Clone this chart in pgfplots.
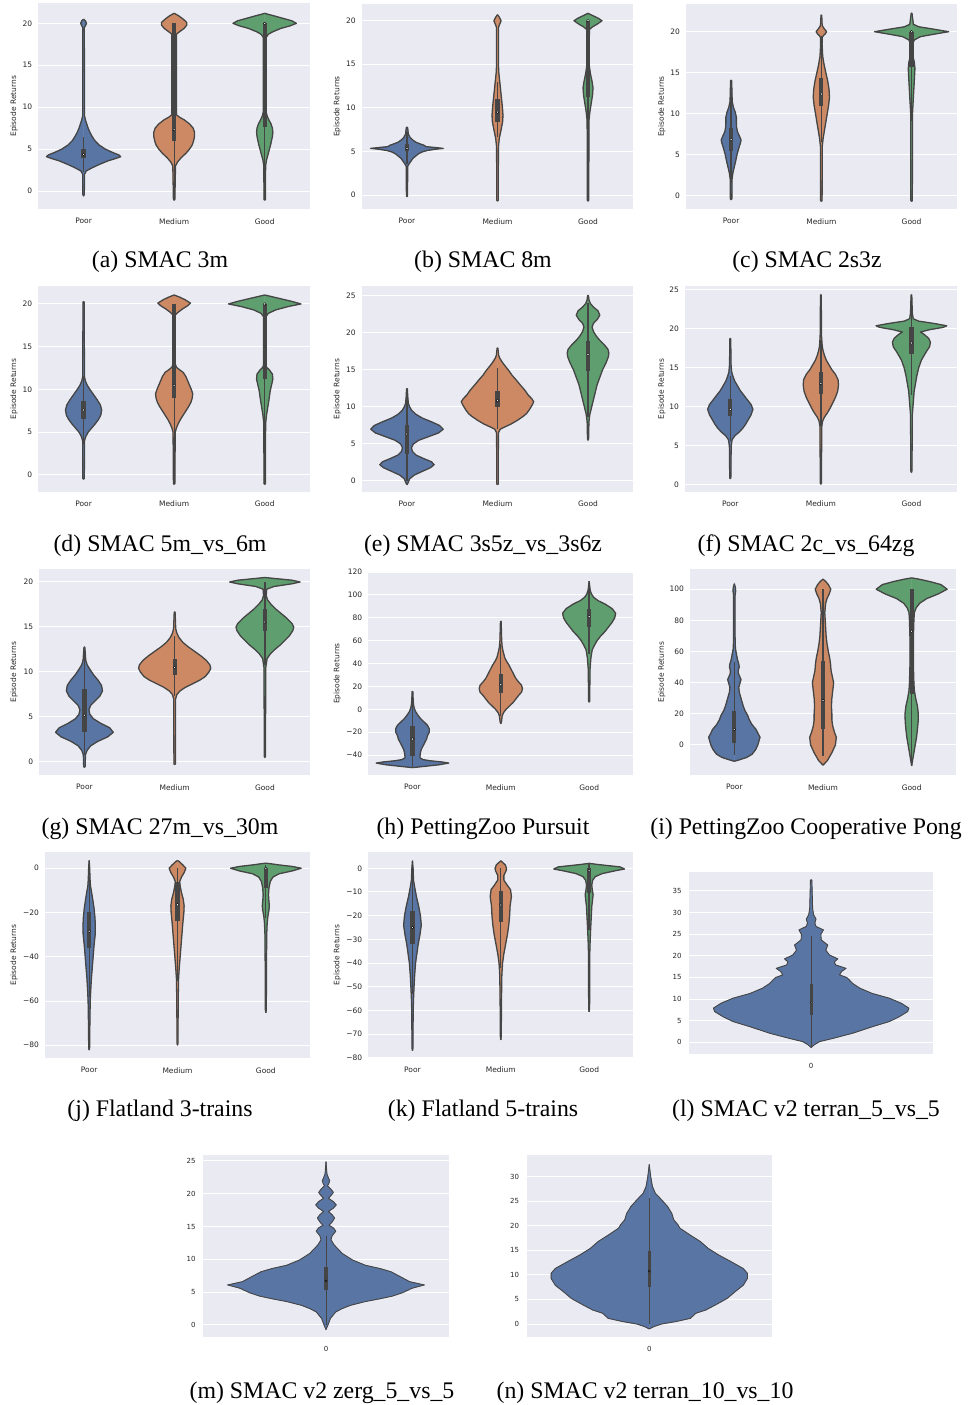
\documentclass[border=0pt]{standalone}
\usepackage{pgfplots}
\pgfplotsset{compat=1.18}
\usepackage{pgfplotstable}
\usepackage{fontspec}
\setmainfont{Liberation Serif}
\newfontfamily\sbfont{DejaVu Sans}
\newcommand{\tickfont}{\sbfont\fontsize{7.5}{9}\selectfont}
\newcommand{\smallfont}{\sbfont\fontsize{7}{8.4}\selectfont}
\newcommand{\capfont}{\fontsize{23.8}{28}\selectfont}

\definecolor{sbbg}{HTML}{EAEAF2}
\definecolor{vblue}{HTML}{5975A4}
\definecolor{vorange}{HTML}{CC8963}
\definecolor{vgreen}{HTML}{5F9E6E}
\definecolor{vgray}{HTML}{454545}
\definecolor{tgray}{HTML}{262626}

% violin outlines: y = return, w = half width (category units)
\pgfplotstableread[row sep=\\]{y w\\ -0.6 0\\ -0.4 0.008\\ 2.0 0.01\\ 2.4 0.03\\ 2.8 0.10\\ 3.2 0.18\\ 3.6 0.27\\ 3.9 0.36\\ 4.1 0.41\\ 4.3 0.39\\ 4.6 0.32\\ 5.0 0.24\\ 5.5 0.17\\ 6.0 0.125\\ 6.5 0.095\\ 7.0 0.07\\ 7.5 0.05\\ 8.0 0.035\\ 8.5 0.02\\ 9.0 0.01\\ 19.5 0.008\\ 19.7 0.02\\ 20.0 0.032\\ 20.3 0.02\\ 20.5 0\\}\vaP
\pgfplotstableread[row sep=\\]{y w\\ -1.1 0\\ -1.0 0.008\\ 3.0 0.015\\ 3.5 0.04\\ 4.0 0.08\\ 4.5 0.13\\ 5.0 0.17\\ 5.5 0.2\\ 6.0 0.215\\ 6.5 0.225\\ 7.0 0.225\\ 7.5 0.21\\ 8.0 0.17\\ 8.5 0.11\\ 8.8 0.06\\ 9.1 0.025\\ 18.7 0.025\\ 19.0 0.06\\ 19.4 0.11\\ 19.8 0.14\\ 20.1 0.14\\ 20.5 0.1\\ 20.9 0.05\\ 21.2 0\\}\vaM
\pgfplotstableread[row sep=\\]{y w\\ -1.1 0\\ -1.0 0.008\\ 3.0 0.01\\ 3.7 0.02\\ 4.5 0.04\\ 5.5 0.065\\ 6.5 0.085\\ 7.0 0.09\\ 7.5 0.085\\ 8.0 0.07\\ 8.5 0.045\\ 9.0 0.025\\ 9.5 0.015\\ 18.3 0.015\\ 18.7 0.04\\ 19.0 0.09\\ 19.4 0.18\\ 19.7 0.28\\ 20.0 0.35\\ 20.3 0.3\\ 20.6 0.2\\ 20.9 0.1\\ 21.1 0.03\\ 21.2 0\\}\vaG

\pgfplotstableread[row sep=\\]{y w\\ -0.2 0\\ -0.1 0.006\\ 3.3 0.008\\ 3.6 0.025\\ 3.9 0.045\\ 4.2 0.065\\ 4.5 0.1\\ 4.75 0.13\\ 4.95 0.17\\ 5.1 0.22\\ 5.25 0.31\\ 5.35 0.4\\ 5.45 0.31\\ 5.55 0.21\\ 5.7 0.19\\ 5.85 0.15\\ 6.05 0.1\\ 6.3 0.065\\ 6.6 0.035\\ 7.0 0.015\\ 7.7 0.008\\ 7.8 0\\}\vbP
\pgfplotstableread[row sep=\\]{y w\\ -0.7 0\\ -0.6 0.008\\ 5.5 0.01\\ 6.5 0.02\\ 7.5 0.04\\ 8.5 0.058\\ 9.2 0.06\\ 10.0 0.055\\ 11.0 0.045\\ 12.0 0.035\\ 13.0 0.025\\ 14.0 0.015\\ 15.0 0.01\\ 19.2 0.01\\ 19.5 0.02\\ 20.0 0.04\\ 20.4 0.02\\ 20.7 0\\}\vbM
\pgfplotstableread[row sep=\\]{y w\\ -0.7 0\\ -0.6 0.008\\ 8.5 0.01\\ 9.5 0.02\\ 10.5 0.035\\ 11.5 0.05\\ 12.3 0.055\\ 13.0 0.045\\ 14.0 0.025\\ 15.0 0.012\\ 19.0 0.015\\ 19.3 0.05\\ 19.6 0.1\\ 20.0 0.155\\ 20.3 0.11\\ 20.6 0.05\\ 20.85 0\\}\vbG

\pgfplotstableread[row sep=\\]{y w\\ -0.5 0\\ -0.4 0.008\\ 2.0 0.01\\ 2.8 0.02\\ 3.5 0.035\\ 4.2 0.05\\ 5.0 0.065\\ 5.8 0.085\\ 6.5 0.105\\ 6.8 0.11\\ 7.2 0.095\\ 7.8 0.07\\ 8.4 0.06\\ 9.0 0.058\\ 9.6 0.058\\ 10.2 0.045\\ 10.8 0.025\\ 11.5 0.012\\ 14.0 0.006\\ 14.1 0\\}\vcP
\pgfplotstableread[row sep=\\]{y w\\ -0.7 0\\ -0.6 0.008\\ 6.0 0.01\\ 7.0 0.02\\ 8.0 0.035\\ 9.0 0.05\\ 10.0 0.065\\ 11.0 0.08\\ 12.0 0.09\\ 13.0 0.085\\ 14.0 0.07\\ 15.0 0.05\\ 16.0 0.03\\ 17.0 0.015\\ 18.5 0.008\\ 19.3 0.01\\ 19.5 0.02\\ 19.7 0.04\\ 20.0 0.058\\ 20.4 0.03\\ 20.7 0.012\\ 21.0 0.008\\ 22.0 0.004\\ 22.05 0\\}\vcM
\pgfplotstableread[row sep=\\]{y w\\ -0.7 0\\ -0.6 0.008\\ 10.0 0.01\\ 12.0 0.02\\ 14.0 0.03\\ 15.5 0.037\\ 16.3 0.03\\ 17.0 0.015\\ 18.5 0.012\\ 19.0 0.03\\ 19.4 0.1\\ 19.7 0.25\\ 20.0 0.41\\ 20.3 0.25\\ 20.6 0.08\\ 20.9 0.02\\ 22.2 0.005\\ 22.3 0\\}\vcG

\pgfplotstableread[row sep=\\]{y w\\ -0.5 0\\ -0.4 0.008\\ 4.0 0.01\\ 4.5 0.025\\ 5.0 0.05\\ 5.5 0.09\\ 6.0 0.13\\ 6.5 0.165\\ 7.0 0.19\\ 7.6 0.2\\ 8.2 0.185\\ 8.8 0.15\\ 9.4 0.11\\ 10.0 0.07\\ 10.5 0.04\\ 11.0 0.02\\ 11.5 0.01\\ 20.2 0.006\\ 20.3 0\\}\vdP
\pgfplotstableread[row sep=\\]{y w\\ -1.1 0\\ -1.0 0.008\\ 5.0 0.012\\ 5.5 0.025\\ 6.0 0.045\\ 6.5 0.07\\ 7.0 0.1\\ 7.5 0.13\\ 8.0 0.16\\ 8.5 0.185\\ 9.0 0.2\\ 9.5 0.205\\ 10.0 0.19\\ 10.5 0.17\\ 11.0 0.15\\ 11.5 0.13\\ 12.0 0.1\\ 12.3 0.06\\ 12.6 0.025\\ 13.0 0.012\\ 18.7 0.012\\ 19.0 0.04\\ 19.4 0.09\\ 19.8 0.15\\ 20.1 0.18\\ 20.5 0.12\\ 20.8 0.06\\ 21.05 0\\}\vdM
\pgfplotstableread[row sep=\\]{y w\\ -1.1 0\\ -1.0 0.008\\ 6.0 0.01\\ 7.0 0.02\\ 8.0 0.035\\ 9.0 0.05\\ 9.8 0.06\\ 10.5 0.075\\ 11.2 0.09\\ 11.8 0.085\\ 12.3 0.05\\ 12.6 0.02\\ 13.0 0.012\\ 18.5 0.012\\ 18.9 0.04\\ 19.3 0.12\\ 19.7 0.26\\ 20.0 0.4\\ 20.3 0.3\\ 20.6 0.18\\ 20.9 0.06\\ 21.05 0\\}\vdG

\pgfplotstableread[row sep=\\]{y w\\ -0.5 0\\ -0.3 0.01\\ 0.3 0.03\\ 0.8 0.08\\ 1.3 0.17\\ 1.8 0.26\\ 2.2 0.3\\ 2.6 0.27\\ 3.0 0.19\\ 3.5 0.1\\ 4.0 0.06\\ 4.5 0.05\\ 5.0 0.07\\ 5.5 0.13\\ 6.0 0.24\\ 6.5 0.35\\ 7.0 0.4\\ 7.5 0.36\\ 8.0 0.27\\ 8.5 0.17\\ 9.0 0.1\\ 9.5 0.055\\ 10.0 0.03\\ 10.5 0.015\\ 11.5 0.008\\ 12.4 0.005\\ 12.5 0\\}\veP
\pgfplotstableread[row sep=\\]{y w\\ -0.5 0\\ -0.4 0.008\\ 6.5 0.01\\ 7.0 0.03\\ 7.3 0.08\\ 7.7 0.15\\ 8.2 0.22\\ 8.7 0.28\\ 9.1 0.32\\ 9.6 0.35\\ 10.2 0.38\\ 10.7 0.4\\ 11.1 0.38\\ 11.6 0.34\\ 12.3 0.3\\ 13.0 0.25\\ 13.6 0.21\\ 14.3 0.16\\ 15.0 0.12\\ 15.6 0.08\\ 16.1 0.05\\ 16.6 0.025\\ 17.0 0.012\\ 17.9 0.005\\ 18.0 0\\}\veM
\pgfplotstableread[row sep=\\]{y w\\ 5.5 0\\ 5.7 0.006\\ 8.0 0.01\\ 9.0 0.02\\ 10.0 0.04\\ 11.0 0.06\\ 12.0 0.08\\ 13.0 0.1\\ 14.0 0.13\\ 15.0 0.16\\ 16.0 0.2\\ 16.8 0.225\\ 17.3 0.23\\ 17.8 0.22\\ 18.4 0.18\\ 19.0 0.13\\ 19.6 0.09\\ 20.2 0.06\\ 20.8 0.045\\ 21.3 0.06\\ 21.8 0.1\\ 22.4 0.13\\ 23.0 0.11\\ 23.5 0.06\\ 24.0 0.025\\ 24.5 0.01\\ 25.0 0.005\\ 25.1 0\\}\veG

\pgfplotstableread[row sep=\\]{y w\\ 0.8 0\\ 0.9 0.006\\ 5.0 0.01\\ 5.8 0.02\\ 6.3 0.05\\ 6.8 0.1\\ 7.3 0.14\\ 7.8 0.17\\ 8.4 0.2\\ 9.0 0.23\\ 9.7 0.25\\ 10.3 0.23\\ 10.9 0.19\\ 11.5 0.15\\ 12.1 0.11\\ 12.7 0.08\\ 13.3 0.05\\ 13.9 0.03\\ 14.5 0.015\\ 15.5 0.008\\ 18.7 0.005\\ 18.8 0\\}\vfP
\pgfplotstableread[row sep=\\]{y w\\ 0.1 0\\ 0.2 0.006\\ 7.5 0.01\\ 8.2 0.02\\ 8.7 0.04\\ 9.2 0.07\\ 9.8 0.1\\ 10.5 0.13\\ 11.2 0.16\\ 12.0 0.185\\ 12.8 0.195\\ 13.5 0.19\\ 14.2 0.16\\ 14.8 0.12\\ 15.4 0.09\\ 16.0 0.06\\ 16.6 0.04\\ 17.2 0.025\\ 17.8 0.015\\ 19.0 0.008\\ 24.3 0.004\\ 24.4 0\\}\vfM
\pgfplotstableread[row sep=\\]{y w\\ 1.6 0\\ 1.8 0.006\\ 9.0 0.01\\ 10.5 0.02\\ 12.0 0.03\\ 13.0 0.045\\ 14.0 0.06\\ 15.0 0.08\\ 16.0 0.11\\ 17.0 0.16\\ 17.7 0.2\\ 18.3 0.21\\ 18.8 0.19\\ 19.3 0.14\\ 19.6 0.1\\ 19.9 0.2\\ 20.2 0.35\\ 20.4 0.39\\ 20.7 0.25\\ 21.0 0.08\\ 21.3 0.02\\ 22.0 0.01\\ 24.3 0.004\\ 24.4 0\\}\vfG

\pgfplotstableread[row sep=\\]{y w\\ -0.6 0\\ -0.5 0.008\\ 0.8 0.012\\ 1.3 0.03\\ 1.8 0.07\\ 2.3 0.15\\ 2.8 0.26\\ 3.3 0.32\\ 3.8 0.28\\ 4.3 0.18\\ 4.8 0.1\\ 5.3 0.06\\ 5.8 0.05\\ 6.3 0.07\\ 6.8 0.12\\ 7.3 0.17\\ 7.9 0.2\\ 8.5 0.19\\ 9.1 0.15\\ 9.7 0.1\\ 10.3 0.06\\ 10.8 0.03\\ 11.3 0.015\\ 12.7 0.005\\ 12.8 0\\}\vgP
\pgfplotstableread[row sep=\\]{y w\\ -0.3 0\\ -0.2 0.008\\ 7.0 0.01\\ 7.5 0.025\\ 7.9 0.06\\ 8.3 0.12\\ 8.7 0.2\\ 9.1 0.28\\ 9.5 0.34\\ 10.0 0.38\\ 10.4 0.4\\ 10.8 0.39\\ 11.3 0.35\\ 11.8 0.29\\ 12.3 0.22\\ 12.8 0.15\\ 13.3 0.09\\ 13.8 0.05\\ 14.3 0.025\\ 14.8 0.012\\ 16.6 0.005\\ 16.7 0\\}\vgM
\pgfplotstableread[row sep=\\]{y w\\ 0.5 0\\ 0.6 0.006\\ 10.5 0.01\\ 11.5 0.025\\ 12.0 0.06\\ 12.5 0.11\\ 13.0 0.17\\ 13.5 0.22\\ 14.0 0.27\\ 14.6 0.31\\ 15.0 0.32\\ 15.4 0.3\\ 16.0 0.24\\ 16.5 0.18\\ 17.0 0.12\\ 17.5 0.07\\ 18.0 0.03\\ 18.5 0.015\\ 19.2 0.02\\ 19.5 0.1\\ 19.8 0.3\\ 20.0 0.39\\ 20.2 0.3\\ 20.4 0.1\\ 20.5 0\\}\vgG

\pgfplotstableread[row sep=\\]{y w\\ -51 0\\ -50 0.12\\ -48.5 0.3\\ -47 0.41\\ -46 0.33\\ -45 0.2\\ -44 0.12\\ -42.5 0.085\\ -41 0.085\\ -38 0.09\\ -35 0.1\\ -32 0.12\\ -29 0.14\\ -26 0.16\\ -23 0.17\\ -20 0.19\\ -17 0.19\\ -14 0.17\\ -11 0.13\\ -8 0.09\\ -5 0.06\\ -2 0.035\\ 1 0.02\\ 4 0.012\\ 8 0.008\\ 15.5 0.004\\ 15.7 0\\}\vhP
\pgfplotstableread[row sep=\\]{y w\\ -12.5 0\\ -11 0.008\\ -6 0.015\\ -3 0.03\\ 0 0.06\\ 3 0.1\\ 6 0.14\\ 9 0.17\\ 12 0.2\\ 15 0.235\\ 18 0.245\\ 21 0.235\\ 24 0.2\\ 27 0.17\\ 30 0.15\\ 33 0.13\\ 36 0.11\\ 39 0.09\\ 42 0.065\\ 45 0.045\\ 48 0.035\\ 51 0.025\\ 55 0.015\\ 60 0.01\\ 76.7 0.004\\ 77 0\\}\vhM
\pgfplotstableread[row sep=\\]{y w\\ 6.3 0\\ 7 0.006\\ 35 0.01\\ 45 0.02\\ 52 0.035\\ 56 0.06\\ 60 0.09\\ 64 0.13\\ 68 0.18\\ 72 0.22\\ 76 0.26\\ 80 0.29\\ 84 0.3\\ 88 0.26\\ 92 0.18\\ 95 0.1\\ 98 0.05\\ 101 0.025\\ 104 0.012\\ 108 0.006\\ 112 0\\}\vhG

\pgfplotstableread[row sep=\\]{y w\\ -10.5 0\\ -9.5 0.06\\ -8 0.14\\ -6 0.2\\ -3 0.24\\ 0 0.265\\ 3 0.28\\ 5 0.29\\ 7 0.27\\ 10 0.245\\ 13 0.2\\ 16 0.17\\ 19 0.15\\ 22 0.12\\ 25 0.1\\ 28 0.085\\ 31 0.07\\ 34 0.055\\ 37 0.05\\ 40 0.065\\ 42 0.075\\ 44 0.06\\ 46 0.045\\ 48 0.045\\ 50 0.055\\ 52 0.05\\ 55 0.035\\ 58 0.025\\ 62 0.012\\ 70 0.008\\ 96 0.008\\ 99 0.015\\ 101 0.012\\ 103.5 0\\}\viP
\pgfplotstableread[row sep=\\]{y w\\ -13 0\\ -10 0.05\\ -5 0.1\\ 0 0.14\\ 5 0.15\\ 8 0.13\\ 12 0.11\\ 16 0.1\\ 20 0.1\\ 25 0.095\\ 30 0.1\\ 35 0.11\\ 40 0.12\\ 44 0.105\\ 48 0.09\\ 52 0.085\\ 56 0.075\\ 60 0.06\\ 65 0.045\\ 70 0.035\\ 75 0.03\\ 80 0.025\\ 85 0.02\\ 88 0.025\\ 91 0.03\\ 94 0.045\\ 97 0.07\\ 100 0.088\\ 103 0.06\\ 105 0.03\\ 106.5 0\\}\viM
\pgfplotstableread[row sep=\\]{y w\\ -13.5 0\\ -10 0.01\\ -5 0.025\\ 0 0.04\\ 5 0.055\\ 10 0.065\\ 15 0.073\\ 20 0.075\\ 25 0.065\\ 30 0.045\\ 35 0.03\\ 40 0.025\\ 50 0.02\\ 60 0.02\\ 70 0.02\\ 80 0.025\\ 85 0.03\\ 88 0.05\\ 91 0.09\\ 94 0.17\\ 97 0.3\\ 100 0.4\\ 103 0.33\\ 105 0.2\\ 106.5 0.08\\ 107.3 0\\}\viG

\pgfplotstableread[row sep=\\]{y w\\ -82.2 0\\ -81 0.005\\ -70 0.008\\ -60 0.012\\ -55 0.018\\ -50 0.025\\ -45 0.035\\ -40 0.045\\ -35 0.055\\ -30 0.068\\ -26 0.07\\ -22 0.065\\ -18 0.055\\ -14 0.04\\ -11 0.028\\ -8 0.015\\ -5 0.01\\ 0 0.006\\ 3.5 0\\}\vjP
\pgfplotstableread[row sep=\\]{y w\\ -80 0\\ -79 0.005\\ -60 0.008\\ -50 0.012\\ -45 0.02\\ -40 0.03\\ -35 0.04\\ -30 0.05\\ -25 0.06\\ -20 0.072\\ -17 0.075\\ -14 0.065\\ -11 0.045\\ -8 0.03\\ -6 0.025\\ -4 0.045\\ -2 0.075\\ 0 0.095\\ 1.5 0.06\\ 3 0.02\\ 3.5 0\\}\vjM
\pgfplotstableread[row sep=\\]{y w\\ -65.3 0\\ -64 0.005\\ -40 0.008\\ -30 0.01\\ -25 0.015\\ -22 0.022\\ -19 0.035\\ -17 0.04\\ -15 0.035\\ -12 0.03\\ -9 0.035\\ -6 0.05\\ -4 0.08\\ -2.5 0.15\\ -1.2 0.3\\ 0 0.4\\ 0.8 0.3\\ 1.5 0.15\\ 2.0 0.06\\ 2.3 0\\}\vjG

\pgfplotstableread[row sep=\\]{y w\\ -77 0\\ -76 0.005\\ -60 0.008\\ -55 0.012\\ -50 0.018\\ -45 0.025\\ -40 0.035\\ -36 0.05\\ -32 0.065\\ -28 0.085\\ -24 0.1\\ -20 0.09\\ -16 0.07\\ -12 0.045\\ -8 0.025\\ -5 0.012\\ 0 0.007\\ 3.2 0\\}\vkP
\pgfplotstableread[row sep=\\]{y w\\ -72.5 0\\ -71 0.005\\ -55 0.008\\ -45 0.012\\ -40 0.02\\ -36 0.035\\ -32 0.055\\ -28 0.075\\ -24 0.09\\ -20 0.1\\ -16 0.105\\ -12 0.12\\ -9 0.11\\ -7 0.07\\ -5 0.035\\ -3 0.035\\ -1 0.06\\ 0 0.065\\ 1.5 0.05\\ 2.5 0.02\\ 3.2 0\\}\vkM
\pgfplotstableread[row sep=\\]{y w\\ -60.6 0\\ -59 0.005\\ -35 0.008\\ -30 0.012\\ -25 0.018\\ -20 0.025\\ -16 0.03\\ -13 0.04\\ -11 0.045\\ -9 0.035\\ -7 0.03\\ -5 0.04\\ -3.5 0.07\\ -2.2 0.15\\ -1.0 0.3\\ -0.3 0.4\\ 0.6 0.35\\ 1.2 0.2\\ 1.7 0.08\\ 2.1 0\\}\vkG

\pgfplotstableread[row sep=\\]{y w\\ -1.2 0\\ -0.6 0.012\\ 0.15 0.034\\ 0.9 0.089\\ 2.1 0.17\\ 3.6 0.25\\ 4.8 0.32\\ 5.9 0.36\\ 7.1 0.395\\ 7.9 0.4\\ 9.0 0.37\\ 10.2 0.32\\ 11.3 0.25\\ 12.5 0.2\\ 13.6 0.17\\ 14.5 0.155\\ 15.0 0.145\\ 15.6 0.116\\ 16.4 0.125\\ 17.1 0.143\\ 17.9 0.1\\ 18.6 0.095\\ 19.3 0.109\\ 20.2 0.075\\ 21.3 0.06\\ 22.5 0.068\\ 23.7 0.041\\ 25.0 0.04\\ 26.0 0.05\\ 26.8 0.02\\ 27.6 0.015\\ 28.5 0.02\\ 29.5 0.01\\ 31 0.006\\ 37.5 0.003\\ 37.6 0\\}\vlZ
\pgfplotstableread[row sep=\\]{y w\\ -0.7 0\\ 0 0.008\\ 1.0 0.018\\ 2.0 0.04\\ 2.5 0.066\\ 3.0 0.1\\ 3.55 0.158\\ 4.0 0.22\\ 4.4 0.27\\ 4.9 0.31\\ 5.6 0.35\\ 6.1 0.4\\ 6.6 0.34\\ 7.4 0.3\\ 8.1 0.265\\ 8.6 0.22\\ 9.1 0.16\\ 9.9 0.108\\ 10.9 0.066\\ 12.2 0.033\\ 13.0 0.02\\ 13.6 0.025\\ 14.3 0.04\\ 14.8 0.03\\ 15.2 0.012\\ 15.7 0.025\\ 16.3 0.035\\ 16.8 0.025\\ 17.3 0.01\\ 17.8 0.03\\ 18.3 0.042\\ 18.8 0.03\\ 19.3 0.01\\ 19.8 0.022\\ 20.2 0.03\\ 20.7 0.02\\ 21.2 0.006\\ 21.6 0.012\\ 22.0 0.015\\ 22.4 0.01\\ 23 0.004\\ 24.9 0\\}\vmZ
\pgfplotstableread[row sep=\\]{y w\\ -1.0 0\\ -0.5 0.02\\ 0 0.05\\ 0.5 0.108\\ 1.15 0.167\\ 2.2 0.19\\ 2.85 0.23\\ 3.9 0.27\\ 5.2 0.317\\ 6.6 0.35\\ 7.9 0.383\\ 9.3 0.4\\ 10.3 0.4\\ 11.3 0.383\\ 12.7 0.333\\ 14.05 0.283\\ 15.4 0.24\\ 16.8 0.208\\ 18.1 0.167\\ 19.5 0.125\\ 20.2 0.117\\ 21.2 0.1\\ 22.5 0.092\\ 23.9 0.075\\ 25.3 0.05\\ 26.6 0.025\\ 28 0.013\\ 30 0.006\\ 32.5 0\\}\vnZ

\pgfplotsset{
  sb/.style={scale only axis, anchor=south west,
    axis background/.style={fill=sbbg},
    axis line style={draw=none},
    ymajorgrids, xmajorgrids=false,
    major grid style={white, line width=1pt},
    tick style={draw=none},
    ticklabel style={font=\tickfont, text=tgray},
    /pgf/number format/assume math mode=true,
    xticklabel style={yshift=-5.5pt},
    yticklabel style={xshift=-2.5pt},
    ylabel style={anchor=center, font=\tickfont, text=tgray}},
  sb3/.style={sb, xmin=-0.5, xmax=2.5, xtick={0,1,2},
    xticklabels={Poor,Medium,Good}, ylabel={Episode Returns}},
  sb1/.style={sb, xmin=-0.5, xmax=0.5, xtick={0}, xticklabels={0},
    ticklabel style={font=\smallfont}, xticklabel style={yshift=0.5pt},
    yticklabel style={xshift=-1.5pt}},
}

\def\vlw{1.3pt}\def\wlw{1.3pt}\def\blw{4.2pt}\def\mdot{1.3pt}
% each half is filled from the centre line to its edge (w = 0 at both ends)
\newcommand{\violin}[3]{%
  \addplot[fill=#3, draw=#3, line width=0.3pt] table[x expr=#1+\thisrow{w}, y=y] {#2} -- cycle;
  \addplot[fill=#3, draw=#3, line width=0.3pt] table[x expr=#1-\thisrow{w}, y=y] {#2} -- cycle;
  \addplot[draw=vgray, line width=\vlw, line join=round] table[x expr=#1+\thisrow{w}, y=y] {#2};
  \addplot[draw=vgray, line width=\vlw, line join=round] table[x expr=#1-\thisrow{w}, y=y] {#2};}
\newcommand{\innerbox}[6]{%
  \addplot[vgray, line width=\wlw] coordinates {(#1,#2) (#1,#3)};
  \addplot[vgray, line width=\blw] coordinates {(#1,#4) (#1,#5)};
  \addplot[only marks, mark=*, mark size=\mdot, mark options={draw=none, fill=white}] coordinates {(#1,#6)};}

\begin{document}
\begin{tikzpicture}
\useasboundingbox (0,0) rectangle (967pt,-1405pt);

% row 1
\begin{axis}[sb3, at={(38.3pt,-209.3pt)}, width=271.7pt, height=206pt, ymin=-2.18, ymax=22.39,
  ytick={0,5,...,20}, ylabel style={at={(axis description cs:-0.0894,0.5)}}]
\violin{0}{\vaP}{vblue}\violin{1}{\vaM}{vorange}\violin{2}{\vaG}{vgreen}
\innerbox{0}{2.3}{6.4}{3.9}{5.0}{4.35}
\innerbox{1}{-1.0}{20}{6.0}{20}{7.3}
\innerbox{2}{-1.0}{20}{7.6}{20}{20}
\end{axis}
\begin{axis}[sb3, at={(361.7pt,-209.3pt)}, width=271.6pt, height=205.3pt, ymin=-1.64, ymax=21.92,
  ytick={0,5,...,20}, ylabel style={at={(axis description cs:-0.0898,0.5)}}]
\violin{0}{\vbP}{vblue}\violin{1}{\vbM}{vorange}\violin{2}{\vbG}{vgreen}
\innerbox{0}{3.6}{7.2}{5.0}{5.9}{5.35}
\innerbox{1}{6.7}{13.0}{8.4}{11.0}{9.5}
\innerbox{2}{-0.6}{20}{11.3}{20}{20}
\end{axis}
\begin{axis}[sb3, at={(686pt,-209.3pt)}, width=270.7pt, height=205.3pt, ymin=-1.66, ymax=23.38,
  ytick={0,5,...,20}, ylabel style={at={(axis description cs:-0.0898,0.5)}}]
\violin{0}{\vcP}{vblue}\violin{1}{\vcM}{vorange}\violin{2}{\vcG}{vgreen}
\innerbox{0}{1.5}{12.5}{5.5}{8.3}{6.85}
\innerbox{1}{6.5}{19.5}{10.9}{14.4}{12.4}
\innerbox{2}{9.1}{20}{15.7}{20}{20}
\end{axis}

% row 2
\begin{axis}[sb3, at={(38.3pt,-492pt)}, width=271.7pt, height=206pt, ymin=-1.99, ymax=22.1,
  ytick={0,5,...,20}, ylabel style={at={(axis description cs:-0.0894,0.5)}}]
\violin{0}{\vdP}{vblue}\violin{1}{\vdM}{vorange}\violin{2}{\vdG}{vgreen}
\innerbox{0}{3.6}{11.6}{6.6}{8.7}{7.6}
\innerbox{1}{-1.0}{20}{9.0}{20}{10.5}
\innerbox{2}{-1.0}{20}{11.2}{20}{20}
\end{axis}
\begin{axis}[sb3, at={(361.7pt,-492pt)}, width=271.6pt, height=206pt, ymin=-1.49, ymax=26.35,
  ytick={0,5,...,25}, ylabel style={at={(axis description cs:-0.0898,0.5)}}]
\violin{0}{\veP}{vblue}\violin{1}{\veM}{vorange}\violin{2}{\veG}{vgreen}
\innerbox{0}{0}{12.3}{3.65}{7.5}{6.35}
\innerbox{1}{7.0}{15.3}{10.0}{12.2}{10.85}
\innerbox{2}{8.7}{24.0}{14.8}{18.9}{17.1}
\end{axis}
\begin{axis}[sb3, at={(685pt,-492pt)}, width=271.7pt, height=206pt, ymin=-0.9, ymax=25.5,
  ytick={0,5,...,25}, ylabel style={at={(axis description cs:-0.0858,0.5)}}]
\violin{0}{\vfP}{vblue}\violin{1}{\vfM}{vorange}\violin{2}{\vfG}{vgreen}
\innerbox{0}{5.7}{14.0}{8.9}{11.0}{9.7}
\innerbox{1}{7.5}{18.6}{11.7}{14.5}{13.0}
\innerbox{2}{11.5}{24.3}{16.8}{20.3}{18.2}
\end{axis}

% row 3
\begin{axis}[sb3, at={(39.3pt,-775.3pt)}, width=270.7pt, height=206pt, ymin=-1.48, ymax=21.41,
  ytick={0,5,...,20}, ylabel style={at={(axis description cs:-0.0935,0.5)}}]
\violin{0}{\vgP}{vblue}\violin{1}{\vgM}{vorange}\violin{2}{\vgG}{vgreen}
\innerbox{0}{0.8}{12.5}{3.3}{8.1}{5.2}
\innerbox{1}{7.3}{14.0}{9.7}{11.4}{10.5}
\innerbox{2}{10.8}{20}{14.5}{17.0}{15.55}
\end{axis}
\begin{axis}[sb3, at={(368.3pt,-775.3pt)}, width=265pt, height=203.3pt, ymin=-57.7, ymax=120,
  ytick={-40,-20,0,20,40,60,80,100,120}, yticklabels={−40,−20,0,20,40,60,80,100,120},
  ylabel style={at={(axis description cs:-0.117,0.5)}}]
\violin{0}{\vhP}{vblue}\violin{1}{\vhM}{vorange}\violin{2}{\vhG}{vgreen}
\innerbox{0}{-50}{15}{-41}{-15}{-26}
\innerbox{1}{-6}{57}{14}{31}{21.5}
\innerbox{2}{48}{110}{72}{88}{81}
\end{axis}
\begin{axis}[sb3, at={(690pt,-775.3pt)}, width=266pt, height=206pt, ymin=-19.5, ymax=112.8,
  ytick={0,20,...,100}, ylabel style={at={(axis description cs:-0.106,0.5)}}]
\violin{0}{\viP}{vblue}\violin{1}{\viM}{vorange}\violin{2}{\viG}{vgreen}
\innerbox{0}{-6.5}{53}{1}{22}{10}
\innerbox{1}{-7}{100}{10.5}{54}{28.5}
\innerbox{2}{-13}{100}{33}{100}{73}
\end{axis}

% row 4
\begin{axis}[sb3, at={(45pt,-1058.3pt)}, width=265pt, height=206pt, ymin=-85.9, ymax=7.2,
  ytick={-80,-60,-40,-20,0}, yticklabels={−80,−60,−40,−20,0},
  ylabel style={at={(axis description cs:-0.117,0.5)}}]
\violin{0}{\vjP}{vblue}\violin{1}{\vjM}{vorange}\violin{2}{\vjG}{vgreen}
\innerbox{0}{-58}{-4}{-36}{-20}{-28.5}
\innerbox{1}{-51}{0}{-24}{-6}{-16.5}
\innerbox{2}{-22.5}{1.5}{-9}{0}{0}
\end{axis}
\begin{axis}[sb3, at={(368.3pt,-1057.7pt)}, width=265pt, height=205.4pt, ymin=-80, ymax=6.76,
  ytick={-80,-70,...,0}, yticklabels={−80,−70,−60,−50,−40,−30,−20,−10,0},
  ylabel style={at={(axis description cs:-0.117,0.5)}}]
\violin{0}{\vkP}{vblue}\violin{1}{\vkM}{vorange}\violin{2}{\vkG}{vgreen}
\innerbox{0}{-53}{2}{-32}{-18}{-25}
\innerbox{1}{-42}{0}{-22.5}{-9.5}{-15.5}
\innerbox{2}{-26}{2}{-10.5}{0}{-1}
\end{axis}
\def\vlw{0.9pt}\def\wlw{0.9pt}\def\blw{3.2pt}\def\mdot{1pt}
\begin{axis}[sb1, at={(689pt,-1054.3pt)}, width=244.3pt, height=182.6pt, ymin=-2.78, ymax=39.46,
  ytick={0,5,...,35}]
\violin{0}{\vlZ}{vblue}
\innerbox{0}{-1.1}{24.7}{6.3}{13.6}{9.2}
\end{axis}

% row 5
\begin{axis}[sb1, at={(203pt,-1337.3pt)}, width=246pt, height=182.3pt, ymin=-1.88, ymax=25.9,
  ytick={0,5,...,25}]
\violin{0}{\vmZ}{vblue}
\innerbox{0}{0}{13.5}{5.3}{8.8}{6.7}
\end{axis}
\begin{axis}[sb1, at={(526.5pt,-1337.3pt)}, width=245.5pt, height=182.3pt, ymin=-2.7, ymax=34.4,
  ytick={0,5,...,30}]
\violin{0}{\vnZ}{vblue}
\innerbox{0}{0}{25.7}{7.5}{14.8}{10.8}
\end{axis}

% captions
\begin{scope}[every node/.style={anchor=base, font=\capfont}]
\node at (160pt,-267.4pt) {(a) SMAC 3m};
\node at (483pt,-267.4pt) {(b) SMAC 8m};
\node at (807pt,-267.4pt) {(c) SMAC 2s3z};
\node at (160pt,-551pt) {(d) SMAC 5m\_vs\_6m};
\node at (483pt,-551pt) {(e) SMAC 3s5z\_vs\_3s6z};
\node at (806pt,-551pt) {(f) SMAC 2c\_vs\_64zg};
\node at (160pt,-834pt) {(g) SMAC 27m\_vs\_30m};
\node at (483pt,-834pt) {(h) PettingZoo Pursuit};
\node at (806pt,-834pt) {(i) PettingZoo Cooperative Pong};
\node at (160pt,-1116pt) {(j) Flatland 3-trains};
\node at (483pt,-1116pt) {(k) Flatland 5-trains};
\node at (806pt,-1116pt) {(l) SMAC v2 terran\_5\_vs\_5};
\node at (322pt,-1398pt) {(m) SMAC v2 zerg\_5\_vs\_5};
\node at (645pt,-1398pt) {(n) SMAC v2 terran\_10\_vs\_10};
\end{scope}
\end{tikzpicture}
\end{document}
